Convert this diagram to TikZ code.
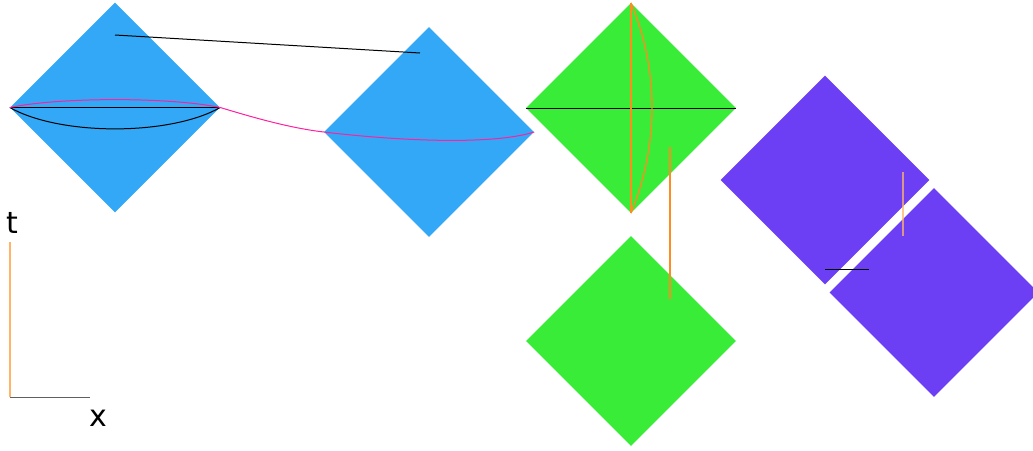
\documentclass[tikz,border=0pt]{standalone}
\usepackage{fontspec}
\setmainfont{DejaVu Sans}
\usepackage{tikz}
\usetikzlibrary{shapes.geometric}
\definecolor{SkyBlue}{HTML}{33A8F6}
\definecolor{LimeGreen}{HTML}{38EC38}
\definecolor{Violet}{HTML}{6D3FF4}
\definecolor{HotPink}{HTML}{FF1FA0}
\definecolor{Amber}{HTML}{FF8C20}
\definecolor{PaleAmber}{HTML}{FFB468}
\definecolor{AxisGray}{HTML}{606060}

\begin{document}
\begin{tikzpicture}[
    x=1pt, y=-1pt,
    font=\fontsize{30}{34}\selectfont,
    region/.style={diamond, draw=none, inner sep=0pt, minimum width=210pt, minimum height=210pt},
    blueregion/.style={region, fill=SkyBlue},
    greenregion/.style={region, fill=LimeGreen},
    purpleregion/.style={region, fill=Violet, minimum width=209pt, minimum height=209pt},
    slice/.style={black, line width=1pt},
    worldline/.style={Amber, line width=1.3pt},
    pinkline/.style={HotPink, line width=1pt}
]
\useasboundingbox (0,0) rectangle (1033,450);

\node[blueregion] (b1) at (115,107.5) {};
\node[blueregion] (b2) at (429,132) {};
\node[greenregion] (g1) at (631,108) {};
\node[greenregion] (g2) at (631,341) {};
\node[purpleregion] (p1) at (825,180) {};
\node[purpleregion] (p2) at (934,292.5) {};

% blue pair
\coordinate (b1in) at (115,35);
\coordinate (b2in) at (420,53);
\draw[slice] (b1in) -- (b2in);
\draw[slice] (b1.west) -- (b1.east);
\draw[slice] (b1.west) .. controls (60,136) and (170,136) .. (b1.east);
\draw[pinkline] (b1.west) .. controls (60,97) and (170,97) .. (b1.east)
    .. controls (255,118) and (290,128) .. (b2.west)
    .. controls (390,140) and (490,146) .. (b2.east);

% green pair
\draw[slice] (g1.west) -- (g1.east);
\draw[worldline] (g1.north) -- (g1.south);
\draw[worldline] (g1.north) .. controls (659,70) and (659,145) .. (g1.south);
\coordinate (g1in) at (670,147);
\coordinate (g2in) at (670,299);
\draw[worldline] (g1in) -- (g2in);

% purple pair
\coordinate (p1in) at (903,172);
\coordinate (p2in) at (903,236);
\draw[PaleAmber, opacity=0.75, line width=1.5pt] (p1in) -- (p2in);
\coordinate (p1low) at (825,269);
\coordinate (p2low) at (869,269);
\draw[slice] (p1low) -- (p2low);

% axes
\coordinate (o) at (10,397);
\coordinate (tend) at (10,242);
\coordinate (xend) at (90,397);
\draw[PaleAmber, line width=1.2pt] (o) -- (tend);
\draw[AxisGray, line width=1pt] (o) -- (xend);
\node[anchor=base west, inner sep=0pt] (tlab) at (6,233) {t};
\node[anchor=base west, inner sep=0pt] (xlab) at (89,426) {x};
\end{tikzpicture}
\end{document}
